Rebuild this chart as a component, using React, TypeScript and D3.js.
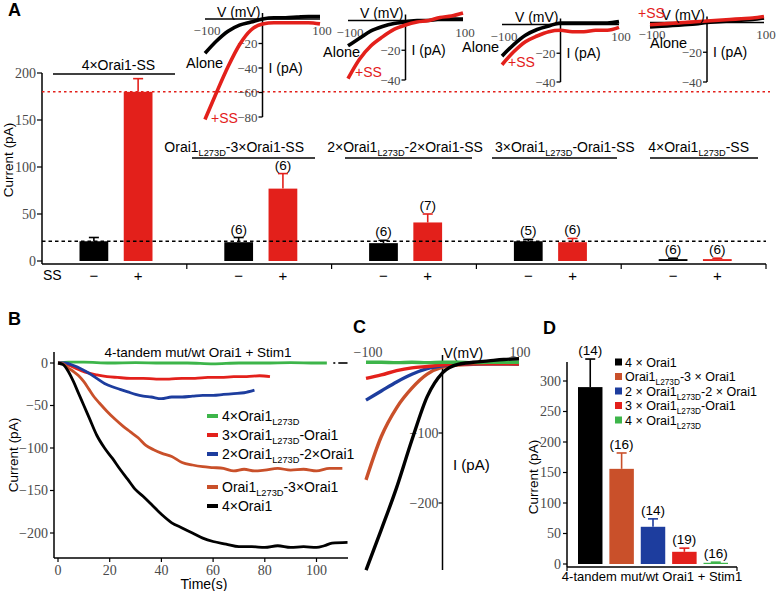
import React from 'react';
import * as d3 from 'd3';

const SANS = '"Liberation Sans", Arial, Helvetica, sans-serif';
const SERIF = '"Liberation Serif", "Times New Roman", serif';
const RED = '#e3201b';
const ORANGE = '#c9502a';
const BLUE = '#1d3d9e';
const GREEN = '#3db54a';
const BLACK = '#000000';
const GRAY = '#4a4a4a';

// ---------- Panel A data ----------
const groupTitlesA = [
  '4×Orai1-SS',
  'Orai1_{L273D}-3×Orai1-SS',
  '2×Orai1_{L273D}-2×Orai1-SS',
  '3×Orai1_{L273D}-Orai1-SS',
  '4×Orai1_{L273D}-SS',
];
const aloneMeanA = [21, 20, 19, 21, 2];
const aloneErrA = [25, 25, 22, 23, 3];
const ssMeanA = [180, 77, 41, 20, 2];
const ssErrA = [194, 93, 50, 24, 3];
const aloneNA = ['', '(6)', '(6)', '(5)', '(6)'];
const ssNA = ['', '(6)', '(7)', '(6)', '(6)'];
const ssSigns = ['−', '+'];
const yTicksA = [0, 50, 100, 150, 200];
const refLevelSS = 180;
const refLevelAlone = 21;

// Inset I-V curves (panel A)
const ivVoltages = [-100, -80, -60, -40, -20, 0, 20, 40, 60, 80, 100];
const insetAlone = [
  [-28, -18, -10, -5, -2.5, 0, 1, 1, 1.5, 2, 2],
  [-17, -12, -7, -4, -2, -1, 0, 0, 1, 1, 1],
  [-22, -14, -7.5, -3.5, -1, 1, 1, 1, 1, 1, 2],
  [-3, -2.5, -2, -1.5, -1, 0, 0.5, 1, 1.5, 2, 3],
];
const insetSS = [
  [-82, -60, -39, -21, -9, -4, -3, -3, -3, -3, -4],
  [-39, -26, -17, -11, -6, -3, -1, 0, 2, 3, 5],
  [-28, -19, -12, -8, -5, -4, -5, -5, -4, -4, -2],
  [-1.5, -1, -0.5, 0, 0.5, 1, 1.5, 2, 2.5, 3, 4],
];
const insetTicks = [[-20, -40, -60, -80], [-20, -40], [-20, -40], [-20, -40]];
const insetVTicks = [-100, 100];

// ---------- Panel B data ----------
const bLegend = ['4×Orai1_{L273D}', '3×Orai1_{L273D}-Orai1', '2×Orai1_{L273D}-2×Orai1', 'Orai1_{L273D}-3×Orai1', '4×Orai1'];
const bTitle = '4-tandem mut/wt Orai1 + Stim1';
const bGreen: [number, number][] = [[0, 0], [4, 1], [10, 1], [20, 0], [30, 0.5], [40, 0], [50, 0], [60, -1], [70, 0], [80, 0], [90, 0.5], [100, 0], [104, 0]];
const bRed: [number, number][] = [[0, 0], [3, -1], [6, -5], [9, -9], [12, -12], [15, -14], [19, -16], [23, -17], [28, -18], [33, -18], [38, -19], [43, -19], [48, -18], [53, -18], [58, -17], [63, -17], [68, -16], [73, -16], [78, -15], [82, -16]];
const bBlue: [number, number][] = [[0, 0], [3, 0], [6, -3], [9, -7], [12, -12], [15, -18], [18, -24], [21, -28], [24, -31], [27, -34], [30, -37], [33, -39], [36, -40], [40, -42], [44, -40], [48, -40], [52, -39], [56, -38], [60, -38], [64, -37], [68, -36], [72, -35], [76, -32]];
const bOrange: [number, number][] = [[0, 0], [2, -1], [4, -6], [6, -10], [8, -15], [10, -22], [12, -31], [14, -40], [16, -47], [19, -57], [22, -66], [25, -74], [28, -81], [31, -88], [34, -97], [37, -102], [40, -106], [44, -110], [48, -117], [52, -120], [56, -122], [60, -123], [64, -124], [68, -127], [72, -125], [76, -127], [80, -126], [85, -124], [90, -126], [95, -125], [100, -127], [105, -124], [110, -124]];
const bBlack: [number, number][] = [[0, 0], [2, -2], [4, -10], [6, -22], [8, -36], [10, -50], [12, -64], [15, -85], [18, -100], [21, -112], [24, -125], [27, -137], [30, -149], [33, -157], [36, -166], [40, -178], [44, -188], [48, -194], [52, -200], [56, -206], [60, -210], [65, -213], [70, -216], [75, -216], [80, -217], [85, -215], [90, -217], [95, -216], [100, -217], [103, -215], [106, -212], [112, -211]];
const bTail: [number, number][] = [[106.5, 0], [112, 0]];
const bYTicks = [0, -50, -100, -150, -200];
const bXTicks = [0, 20, 40, 60, 80, 100];

// ---------- Panel C data ----------
const cVoltages = [-100, -80, -60, -40, -20, 0, 20, 40, 60, 80, 100];
const cBlack = [-296, -238, -178, -110, -48, -14, -2, 1, 3, 5, 6];
const cOrange = [-167, -105, -64, -36, -16, -6, -3, -2, -1, -1, -2];
const cBlue = [-53, -40, -27, -16, -8, -4, -2, -1, -1, -1, -1];
const cRed = [-22, -17, -11, -7, -5, -3, -2, -1, -1, -1, -1];
const cGreen = [1, 1, 0.5, 1, 0.5, 1, 1, 0.5, 1, 1, 1];
const cITicks = [-100, -200];

// ---------- Panel D data ----------
const dLabels = ['4 × Orai1', 'Orai1_{L273D}-3 × Orai1', '2 × Orai1_{L273D}-2 × Orai1', '3 × Orai1_{L273D}-Orai1', '4 × Orai1_{L273D}'];
const dMeans = [290, 156, 61, 20, 2];
const dErrs = [336, 182, 74, 26, 3];
const dN = ['(14)', '(16)', '(14)', '(19)', '(16)'];
const dYTicks = [0, 50, 100, 150, 200, 250, 300];
const dColors = [BLACK, ORANGE, BLUE, RED, GREEN];

// ---------- helpers ----------
function Rich(props: { text: string; x: number; y: number; size: number; anchor?: string; fill?: string; weight?: string }) {
  const { text, x, y, size, anchor = 'start', fill = '#000', weight = 'normal' } = props;
  const parts = text.split(/(_\{[^}]*\})/).filter((p) => p.length > 0);
  const shift = size * 0.32;
  let down = false;
  return (
    <text x={x} y={y} fontFamily={SANS} fontSize={size} textAnchor={anchor} fill={fill} fontWeight={weight}>
      {parts.map((p, i) => {
        if (p.startsWith('_{')) {
          down = true;
          return (
            <tspan key={i} dy={shift} fontSize={size * 0.66}>
              {p.slice(2, -1)}
            </tspan>
          );
        }
        const dy = down ? -shift : 0;
        down = false;
        return (
          <tspan key={i} dy={dy} fontSize={size}>
            {p}
          </tspan>
        );
      })}
    </text>
  );
}

const insetLayout = [
  { vx: [205, 320], y0: 19, yMin: 117, iMin: -80, alone: [186, 68], ss: [211, 123] },
  { vx: [348, 463], y0: 20.5, yMin: 80, iMin: -40, alone: [323, 57], ss: [355, 77] },
  { vx: [502, 619], y0: 24.5, yMin: 82, iMin: -40, alone: [462, 52], ss: [508, 67] },
  { vx: [650, 764], y0: 22.5, yMin: 82, iMin: -40, alone: [650, 48], ss: [638, 18] },
];
const titleLayoutA = [
  { y: 70, dx: 4, ul: [53, 175], uly: 74 },
  { y: 152, dx: -25, ul: [192, 315], uly: 158 },
  { y: 152, dx: 1, ul: [345, 472], uly: 158 },
  { y: 152, dx: 16, ul: [492, 617], uly: 158 },
  { y: 152, dx: 5, ul: [650, 758], uly: 158 },
];

export default function App() {
  // Panel A scales
  const yA = d3.scaleLinear().domain([0, 200]).range([261, 73]);
  const xA = d3.scaleBand<number>().domain(d3.range(5)).range([42, 766]);
  const xInA = d3.scaleBand<string>().domain(['alone', 'ss']).range([37.5, 110.5]).paddingInner(0.35);
  const bwA = xInA.bandwidth();

  // Panel B scales
  const xB = d3.scaleLinear().domain([0, 100]).range([58, 316.5]);
  const yB = d3.scaleLinear().domain([0, -200]).range([363, 533]);
  const lineB = d3.line<[number, number]>().x((d) => xB(d[0])).y((d) => yB(d[1])).curve(d3.curveMonotoneX);

  // Panel C scales
  const xC = d3.scaleLinear().domain([-100, 100]).range([366, 519]);
  const yC = d3.scaleLinear().domain([0, -200]).range([363, 503]);
  const lineC = d3.line<number>().x((_, i) => xC(cVoltages[i])).y((d) => yC(d)).curve(d3.curveMonotoneX);

  // Panel D scales
  const yD = d3.scaleLinear().domain([0, 300]).range([564, 381]);
  const xD = d3.scaleBand<number>().domain(d3.range(5)).range([578, 728]).paddingInner(0.22);

  return (
    <svg width={777} height={591} style={{ position: 'absolute', left: 0, top: 0, background: '#fff' }}>
      <rect x={0} y={0} width={777} height={591} fill="#fff" />
      {/* Panel letters */}
      <text x={8} y={16} fontFamily={SANS} fontWeight="bold" fontSize={18}>A</text>
      <text x={8} y={325} fontFamily={SANS} fontWeight="bold" fontSize={18}>B</text>
      <text x={353} y={333} fontFamily={SANS} fontWeight="bold" fontSize={18}>C</text>
      <text x={543} y={334} fontFamily={SANS} fontWeight="bold" fontSize={18}>D</text>

      {/* ===== Panel A ===== */}
      <g>
        <line x1={42} x2={42} y1={yA(200)} y2={264} stroke="#000" strokeWidth={1.5} />
        <line x1={42} x2={766} y1={264} y2={264} stroke="#000" strokeWidth={1.5} />
        {yTicksA.map((t) => (
          <g key={t}>
            <line x1={37} x2={42} y1={yA(t)} y2={yA(t)} stroke="#000" strokeWidth={1.2} />
            <text x={36} y={yA(t) + 4.5} textAnchor="end" fontFamily={SERIF} fontSize={14} fill={GRAY}>{t}</text>
          </g>
        ))}
        {d3.range(5).map((i) => (
          <line key={i} x1={(xA(i) as number) + xA.bandwidth()} x2={(xA(i) as number) + xA.bandwidth()} y1={264} y2={269} stroke="#000" strokeWidth={1.2} />
        ))}
        <text transform={`translate(13,160) rotate(-90)`} textAnchor="middle" fontFamily={SANS} fontSize={13.5}>Current (pA)</text>
        <text x={43} y={280} fontFamily={SANS} fontSize={14}>SS</text>

        {/* reference lines */}
        <line x1={42} x2={770} y1={yA(refLevelSS)} y2={yA(refLevelSS)} stroke={RED} strokeWidth={1.5} strokeDasharray="2.5,3" />

        {d3.range(5).map((i) => {
          const gx = xA(i) as number;
          const items = [
            { key: 'alone', mean: aloneMeanA[i], err: aloneErrA[i], n: aloneNA[i], color: BLACK },
            { key: 'ss', mean: ssMeanA[i], err: ssErrA[i], n: ssNA[i], color: RED },
          ];
          return (
            <g key={i}>
              {items.map((it, j) => {
                const bx = gx + (xInA(it.key) as number);
                const cx = bx + bwA / 2;
                return (
                  <g key={it.key}>
                    <rect x={bx} y={yA(it.mean)} width={bwA} height={yA(0) - yA(it.mean)} fill={it.color} />
                    <line x1={cx} x2={cx} y1={yA(it.mean)} y2={yA(it.err)} stroke={it.color} strokeWidth={1.6} />
                    <line x1={cx - 5} x2={cx + 5} y1={yA(it.err)} y2={yA(it.err)} stroke={it.color} strokeWidth={1.6} />
                    {it.n && (
                      <text x={cx} y={yA(it.err) - 4} textAnchor="middle" fontFamily={SANS} fontSize={13.5}>{it.n}</text>
                    )}
                    <text x={cx} y={281} textAnchor="middle" fontFamily={SANS} fontSize={15}>{ssSigns[j]}</text>
                  </g>
                );
              })}
              <Rich text={groupTitlesA[i]} x={gx + xA.bandwidth() / 2 + titleLayoutA[i].dx} y={titleLayoutA[i].y} size={14} anchor="middle" />
              <line x1={titleLayoutA[i].ul[0]} x2={titleLayoutA[i].ul[1]} y1={titleLayoutA[i].uly} y2={titleLayoutA[i].uly} stroke="#000" strokeWidth={1.5} />
            </g>
          );
        })}
        <line x1={42} x2={766} y1={yA(refLevelAlone)} y2={yA(refLevelAlone)} stroke="#000" strokeWidth={1.5} strokeDasharray="3.5,3" />

        {/* insets */}
        {insetLayout.map((L, k) => {
          const xs = d3.scaleLinear().domain([-100, 100]).range(L.vx);
          const ys = d3.scaleLinear().domain([0, L.iMin]).range([L.y0, L.yMin]);
          const ln = d3.line<number>().x((_, i) => xs(ivVoltages[i])).y((d) => ys(d)).curve(d3.curveMonotoneX);
          const ax = xs(0);
          return (
            <g key={k}>
              <line x1={xs(-100)} x2={xs(100)} y1={ys(0)} y2={ys(0)} stroke="#000" strokeWidth={1.5} />
              <line x1={ax} x2={ax} y1={ys(0) - 6} y2={ys(L.iMin)} stroke="#000" strokeWidth={1.5} />
              {insetTicks[k].map((t) => (
                <g key={t}>
                  <line x1={ax - 4} x2={ax} y1={ys(t)} y2={ys(t)} stroke="#000" strokeWidth={1.3} />
                  <text x={ax - 5} y={ys(t) + 4.5} textAnchor="end" fontFamily={SERIF} fontSize={13} fill={GRAY}>{t === 0 ? '0' : '−' + Math.abs(t)}</text>
                </g>
              ))}
              {insetVTicks.map((v) => (
                <text key={v} x={xs(v) + (v < 0 ? 2 : 2)} y={ys(0) + 16} textAnchor="middle" fontFamily={SERIF} fontSize={13} fill={GRAY}>{v < 0 ? '−' + Math.abs(v) : v}</text>
              ))}
              <path d={ln(insetAlone[k]) || ''} fill="none" stroke={BLACK} strokeWidth={3.6} strokeLinejoin="round" />
              <path d={ln(insetSS[k]) || ''} fill="none" stroke={RED} strokeWidth={3.6} strokeLinejoin="round" />
              <text x={ax - 2} y={ys(0) - 2.5} textAnchor="end" fontFamily={SANS} fontSize={14}>V (mV)</text>
              <text x={ax + 6} y={ys(L.iMin / 2) + 5} fontFamily={SANS} fontSize={14}>I (pA)</text>
              <text x={L.alone[0]} y={L.alone[1]} fontFamily={SANS} fontSize={14.5}>Alone</text>
              <text x={L.ss[0]} y={L.ss[1]} fontFamily={SANS} fontSize={14} fill={RED}>+SS</text>
            </g>
          );
        })}
      </g>

      {/* ===== Panel B ===== */}
      <g>
        <line x1={54} x2={54} y1={352} y2={558} stroke="#000" strokeWidth={1.5} />
        <line x1={54} x2={348} y1={558} y2={558} stroke="#000" strokeWidth={1.5} />
        {bYTicks.map((t) => (
          <g key={t}>
            <line x1={50} x2={54} y1={yB(t)} y2={yB(t)} stroke="#000" strokeWidth={1.2} />
            <text x={48} y={yB(t) + 4.5} textAnchor="end" fontFamily={SERIF} fontSize={14} fill={GRAY}>{t === 0 ? '0' : '−' + Math.abs(t)}</text>
          </g>
        ))}
        {bXTicks.map((t) => (
          <g key={t}>
            <line x1={xB(t)} x2={xB(t)} y1={558} y2={562} stroke="#000" strokeWidth={1.2} />
            <text x={xB(t)} y={575} textAnchor="middle" fontFamily={SERIF} fontSize={14} fill={GRAY}>{t}</text>
          </g>
        ))}
        <text x={204} y={589} textAnchor="middle" fontFamily={SANS} fontSize={14}>Time(s)</text>
        <text transform={`translate(18,455) rotate(-90)`} textAnchor="middle" fontFamily={SANS} fontSize={13.5}>Current (pA)</text>
        <text x={198} y={357} textAnchor="middle" fontFamily={SANS} fontSize={13.5}>{bTitle}</text>
        <path d={lineB(bTail) || ''} fill="none" stroke="#333" strokeWidth={2} strokeDasharray="2,3,8,0" />
        <path d={lineB(bGreen) || ''} fill="none" stroke={GREEN} strokeWidth={2.8} />
        <path d={lineB(bRed) || ''} fill="none" stroke={RED} strokeWidth={2.8} />
        <path d={lineB(bBlue) || ''} fill="none" stroke={BLUE} strokeWidth={2.8} />
        <path d={lineB(bOrange) || ''} fill="none" stroke={ORANGE} strokeWidth={2.8} />
        <path d={lineB(bBlack) || ''} fill="none" stroke={BLACK} strokeWidth={2.8} />
        {bLegend.map((lab, i) => {
          const ys = [416, 435, 454, 487, 506][i];
          const col = [GREEN, RED, BLUE, ORANGE, BLACK][i];
          return (
            <g key={i}>
              <line x1={207} x2={218} y1={ys} y2={ys} stroke={col} strokeWidth={4} />
              <Rich text={lab} x={222} y={ys + 5} size={14} />
            </g>
          );
        })}
      </g>

      {/* ===== Panel C ===== */}
      <g>
        <line x1={xC(-100)} x2={xC(100)} y1={yC(0)} y2={yC(0)} stroke="#000" strokeWidth={1} />
        <line x1={xC(0)} x2={xC(0)} y1={355} y2={570} stroke="#000" strokeWidth={1.5} />
        {cITicks.map((t) => (
          <g key={t}>
            <line x1={xC(0) - 4} x2={xC(0)} y1={yC(t)} y2={yC(t)} stroke="#000" strokeWidth={1.2} />
            <text x={xC(0) - 4} y={yC(t) + 4.5} textAnchor="end" fontFamily={SERIF} fontSize={14} fill={GRAY}>{'−' + Math.abs(t)}</text>
          </g>
        ))}
        <text x={xC(-100) + 2} y={357} textAnchor="middle" fontFamily={SERIF} fontSize={14} fill={GRAY}>−100</text>
        <text x={xC(100) + 1} y={357} textAnchor="middle" fontFamily={SERIF} fontSize={14} fill={GRAY}>100</text>
        <text x={xC(0) + 1} y={358} fontFamily={SANS} fontSize={14}>V(mV)</text>
        <text x={453} y={470} fontFamily={SANS} fontSize={15}>I (pA)</text>
        <path d={lineC(cOrange) || ''} fill="none" stroke={ORANGE} strokeWidth={3.4} />
        <path d={lineC(cBlue) || ''} fill="none" stroke={BLUE} strokeWidth={3.4} />
        <path d={lineC(cRed) || ''} fill="none" stroke={RED} strokeWidth={3.4} />
        <path d={lineC(cGreen) || ''} fill="none" stroke={GREEN} strokeWidth={3.4} />
        <path d={lineC(cBlack) || ''} fill="none" stroke={BLACK} strokeWidth={3.4} />
      </g>

      {/* ===== Panel D ===== */}
      <g>
        <line x1={567} x2={567} y1={362} y2={567} stroke="#000" strokeWidth={1.5} />
        <line x1={567} x2={737} y1={567} y2={567} stroke="#000" strokeWidth={1.5} />
        <line x1={567} x2={567} y1={567} y2={571} stroke="#000" strokeWidth={1.2} />
        <line x1={737} x2={737} y1={567} y2={571} stroke="#000" strokeWidth={1.2} />
        {dYTicks.map((t) => (
          <g key={t}>
            <line x1={563} x2={567} y1={yD(t)} y2={yD(t)} stroke="#000" strokeWidth={1.2} />
            <text x={561} y={yD(t) + 4.5} textAnchor="end" fontFamily={SERIF} fontSize={14} fill={GRAY}>{t}</text>
          </g>
        ))}
        <text transform={`translate(538,477) rotate(-90)`} textAnchor="middle" fontFamily={SANS} fontSize={13.5}>Current (pA)</text>
        <text x={652} y={581} textAnchor="middle" fontFamily={SANS} fontSize={13}>{bTitle}</text>
        {dMeans.map((m, i) => {
          const bx = xD(i) as number;
          const bw = xD.bandwidth();
          const cx = bx + bw / 2;
          return (
            <g key={i}>
              <rect x={bx} y={yD(m)} width={bw} height={yD(0) - yD(m)} fill={dColors[i]} />
              <line x1={cx} x2={cx} y1={yD(m)} y2={yD(dErrs[i])} stroke={dColors[i]} strokeWidth={1.6} />
              <line x1={cx - 5} x2={cx + 5} y1={yD(dErrs[i])} y2={yD(dErrs[i])} stroke={dColors[i]} strokeWidth={1.6} />
              <text x={cx} y={yD(dErrs[i]) - 4} textAnchor="middle" fontFamily={SANS} fontSize={13.5}>{dN[i]}</text>
            </g>
          );
        })}
        {dLabels.map((lab, i) => {
          const cy = 362 + i * 14.5;
          return (
            <g key={i}>
              <rect x={615} y={cy - 3.5} width={7} height={7} fill={dColors[i]} />
              <Rich text={lab} x={625} y={cy + 4.5} size={12.5} />
            </g>
          );
        })}
      </g>
    </svg>
  );
}
